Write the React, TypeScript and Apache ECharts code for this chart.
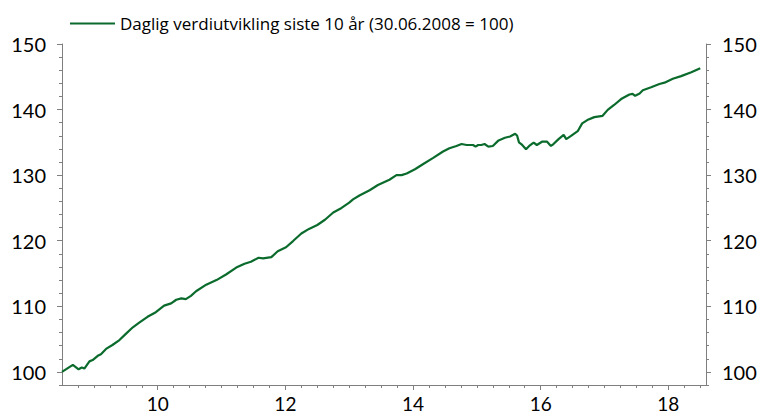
import React, { useEffect, useRef } from "react";
import * as echarts from "echarts";

const seriesName = "Daglig verdiutvikling siste 10 år (30.06.2008 = 100)";

const years: number[] = [
  2008.5, 2008.67, 2008.76, 2008.81, 2008.85, 2008.93, 2008.98, 2009.06, 2009.11, 2009.19,
  2009.29, 2009.4, 2009.5, 2009.61, 2009.71, 2009.84, 2009.97, 2010.1, 2010.21, 2010.29,
  2010.37, 2010.44, 2010.52, 2010.6, 2010.76, 2010.92, 2011.07, 2011.23, 2011.36, 2011.46,
  2011.58, 2011.65, 2011.78, 2011.88, 2012.01, 2012.12, 2012.25, 2012.37, 2012.5, 2012.62,
  2012.75, 2012.88, 2013.0, 2013.06, 2013.16, 2013.32, 2013.45, 2013.63, 2013.74, 2013.82,
  2013.9, 2014.03, 2014.16, 2014.31, 2014.47, 2014.57, 2014.68, 2014.76, 2014.84, 2014.94,
  2014.98, 2015.02, 2015.07, 2015.12, 2015.18, 2015.25, 2015.34, 2015.44, 2015.52, 2015.6,
  2015.63, 2015.66, 2015.7, 2015.77, 2015.82, 2015.89, 2015.94, 2016.02, 2016.1, 2016.16,
  2016.2, 2016.28, 2016.36, 2016.4, 2016.47, 2016.58, 2016.65, 2016.73, 2016.84, 2016.97,
  2017.05, 2017.15, 2017.26, 2017.39, 2017.44, 2017.48, 2017.55, 2017.6, 2017.73, 2017.86,
  2017.94, 2018.07, 2018.2, 2018.36, 2018.5,
];

const values: number[] = [
  100.0, 101.07, 100.4, 100.66, 100.5, 101.6, 101.8, 102.45, 102.7, 103.5,
  104.1, 104.85, 105.8, 106.8, 107.5, 108.4, 109.1, 110.1, 110.45, 111.0,
  111.2, 111.1, 111.6, 112.3, 113.3, 114.0, 114.85, 115.9, 116.5, 116.8,
  117.4, 117.3, 117.5, 118.4, 119.0, 119.95, 121.1, 121.8, 122.4, 123.2,
  124.3, 125.0, 125.8, 126.3, 126.9, 127.7, 128.5, 129.3, 130.0, 130.0,
  130.25, 130.9, 131.7, 132.6, 133.6, 134.1, 134.45, 134.75, 134.6, 134.6,
  134.35, 134.6, 134.6, 134.75, 134.35, 134.45, 135.3, 135.7, 135.9, 136.3,
  136.05, 135.0, 134.7, 133.95, 134.45, 134.95, 134.6, 135.1, 135.1, 134.45,
  134.75, 135.5, 136.15, 135.5, 135.95, 136.7, 137.9, 138.4, 138.85, 139.05,
  139.95, 140.7, 141.6, 142.3, 142.4, 142.1, 142.45, 142.95, 143.4, 143.9,
  144.1, 144.7, 145.1, 145.7, 146.3,
];

const xMajorTicks: number[] = [2010, 2012, 2014, 2016, 2018];
const yMajorTicks: number[] = [100, 110, 120, 130, 140, 150];

const X_MIN = 2008.5;
const X_MAX = 2018.59;
const Y_MIN = 98;
const Y_MAX = 150;

export default function App() {
  const ref = useRef<HTMLDivElement>(null);

  useEffect(() => {
    if (!ref.current) return;
    const chart = echarts.init(ref.current, undefined, { renderer: "svg" });
    const axisColor = "#7f7f7f";
    const labelFont = { color: "#000", fontSize: 20, fontFamily: "Lato, 'Open Sans', sans-serif" };

    const yBase = (position: "left" | "right", major: boolean) => ({
      type: "value",
      position,
      min: Y_MIN,
      max: Y_MAX,
      interval: 2,
      splitLine: { show: false },
      axisLine: { show: !major, onZero: false, lineStyle: { color: axisColor, width: 1 } },
      axisTick: major
        ? { show: true, inside: false, length: 5, customValues: yMajorTicks, lineStyle: { color: axisColor } }
        : { show: true, inside: false, length: 3, lineStyle: { color: axisColor } },
      axisLabel: major
        ? { show: false }
        : {
            show: true,
            margin: 16,
            ...labelFont,
            formatter: (v: number) => (Math.round(v) % 10 === 0 && v >= 100 ? String(v) : ""),
          },
    });

    chart.setOption({
      animation: false,
      grid: { left: 62, right: 59, top: 44, bottom: 29, containLabel: false },
      legend: {
        show: true,
        left: 65,
        top: 10,
        itemWidth: 45,
        itemHeight: 14,
        itemGap: 8,
        icon: "path://M0,6 L45,6 L45,8 L0,8 Z",
        textStyle: { color: "#000", fontSize: 17, fontFamily: "'Open Sans', sans-serif" },
        data: [seriesName],
      },
      xAxis: [
        {
          type: "value",
          min: X_MIN,
          max: X_MAX,
          interval: 0.25,
          splitLine: { show: false },
          axisLine: { show: true, onZero: false, lineStyle: { color: axisColor } },
          axisTick: { show: true, length: 3, lineStyle: { color: axisColor } },
          axisLabel: {
            show: true,
            margin: 9,
            ...labelFont,
            fontSize: 19,
            lineHeight: 19,
            showMinLabel: false,
            showMaxLabel: false,
            formatter: (v: number) => {
              const r = Math.round(v);
              if (Math.abs(v - r) < 1e-6 && r % 2 === 0) return String(r - 2000).padStart(2, "0");
              return "";
            },
          },
        },
        {
          type: "value",
          min: X_MIN,
          max: X_MAX,
          position: "bottom",
          splitLine: { show: false },
          axisLine: { show: false, onZero: false },
          axisTick: { show: true, length: 5, customValues: xMajorTicks, lineStyle: { color: axisColor } },
          axisLabel: { show: false },
        },
      ],
      yAxis: [yBase("left", false), yBase("right", false), yBase("left", true), yBase("right", true)],
      series: [
        {
          name: seriesName,
          type: "line",
          xAxisIndex: 0,
          yAxisIndex: 0,
          data: years.map((y, i) => [y, values[i]]),
          showSymbol: false,
          symbol: "none",
          lineStyle: { color: "#0b6b2c", width: 2.2 },
          itemStyle: { color: "#0b6b2c" },
        },
      ],
    });

    return () => chart.dispose();
  }, []);

  return <div ref={ref} style={{ width: 765, height: 414, position: "absolute", left: 0, top: 0 }} />;
}
